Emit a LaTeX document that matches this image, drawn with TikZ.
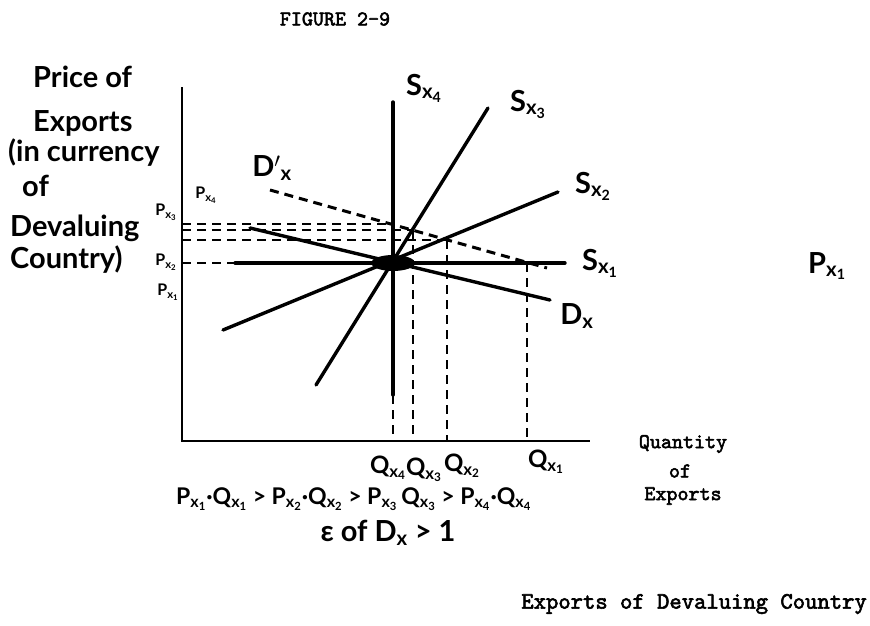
\documentclass[tikz,border=0pt]{standalone}
\usepackage{fontspec}
\newfontfamily\handfont{Lato}
\newfontfamily\typefont{lmmono10-regular}[Extension=.otf, FakeBold=2.5]
\usetikzlibrary{positioning, calc}

\newcommand{\lsub}[2]{#1\textsubscript{x\textsubscript{#2}}}

\begin{document}
\begin{tikzpicture}[x=1pt, y=-1pt,
        curve/.style={line width=3.4pt, line cap=round},
        axis/.style={line width=2.8pt},
        guide/.style={line width=2.8pt, dash pattern=on 9pt off 6pt},
        hand/.style={font=\handfont\bfseries\fontsize{29}{31}\selectfont, inner sep=0pt},
        handform/.style={font=\handfont\bfseries\fontsize{23}{25}\selectfont, inner sep=0pt},
        handmid/.style={font=\handfont\bfseries\fontsize{24}{26}\selectfont, inner sep=0pt},
        handsmall/.style={font=\handfont\bfseries\fontsize{16}{18}\selectfont, inner sep=0pt},
        typed/.style={font=\typefont\fontsize{21}{23}\selectfont, inner sep=0pt}
    ]

    \useasboundingbox (0,0) rectangle (870,626);

    \node[typed] (title) at (335,19) {FIGURE 2-9};

    % axes
    \coordinate (origin) at (182,441);
    \coordinate (ytop) at (182,87);
    \coordinate (xend) at (590,441);
    \draw[axis] (ytop) -- (origin) -- (xend);

    % supply and demand curves
    \coordinate (eq) at (393,263);
    \coordinate (sx4top) at (393,102);
    \coordinate (sx4bot) at (393,395);
    \coordinate (sx3top) at (488,108);
    \coordinate (sx3bot) at (316,385);
    \coordinate (sx2top) at (558,192);
    \coordinate (sx2bot) at (223,330);
    \coordinate (sx1left) at (235,263);
    \coordinate (sx1right) at (565,263);
    \coordinate (dxleft) at (250,228);
    \coordinate (dxright) at (550,300);
    \coordinate (dpleft) at (270,190);
    \coordinate (dpright) at (547,268);

    \draw[curve] (sx4top) -- (sx4bot);
    \draw[curve] (sx3bot) -- (sx3top);
    \draw[curve] (sx2bot) -- (sx2top);
    \draw[curve] (sx1left) -- (sx1right);
    \draw[curve] (dxleft) -- (dxright);
    \draw[guide, line width=3pt] (dpleft) -- (dpright);
    \fill (eq) ellipse [x radius=22pt, y radius=8pt];

    % new equilibria
    \coordinate (e4) at (393,224);
    \coordinate (e3) at (413,230);
    \coordinate (e2) at (447,240);
    \coordinate (e1) at (527,263);
    \coordinate (p4) at (182,224);
    \coordinate (p3) at (182,230);
    \coordinate (p2) at (182,240);
    \coordinate (p1) at (182,263);
    \coordinate (q4) at (393,441);
    \coordinate (q3) at (413,441);
    \coordinate (q2) at (447,441);
    \coordinate (q1) at (527,441);

    \draw[guide] (p4) -- (e4);
    \draw[guide] (p3) -- (e3);
    \draw[guide] (p2) -- (e2);
    \draw[guide] (p1) -- (sx1left);
    \draw[guide] (sx4bot) -- (q4);
    \draw[guide] (e3) -- (q3);
    \draw[guide] (e2) -- (q2);
    \draw[guide] (e1) -- (q1);

    % curve labels
    \node[hand] (lsx4) at (424,88) {\lsub{S}{4}};
    \node[hand] (lsx3) at (528,104) {\lsub{S}{3}};
    \node[hand] (lsx2) at (593,186) {\lsub{S}{2}};
    \node[hand] (lsx1) at (600,263) {\lsub{S}{1}};
    \node[hand] (ldx) at (577,316) {D\textsubscript{x}};
    \node[hand] (ldp) at (272,168) {D$'$\textsubscript{x}};

    % price labels
    \node[handsmall] (lp4) at (206,195) {\lsub{P}{4}};
    \node[handsmall] (lp3) at (166,212) {\lsub{P}{3}};
    \node[handsmall] (lp2) at (166,262) {\lsub{P}{2}};
    \node[handsmall] (lp1) at (168,292) {\lsub{P}{1}};

    % quantity labels
    \node[handmid] (lq4) at (388,468) {\lsub{Q}{4}};
    \node[handmid] (lq3) at (424,470) {\lsub{Q}{3}};
    \node[handmid] (lq2) at (462,466) {\lsub{Q}{2}};
    \node[handmid] (lq1) at (546,462) {\lsub{Q}{1}};

    % axis titles
    \node[hand, anchor=base west] (ya) at (33,88) {Price of};
    \node[hand, anchor=base west] (yb) at (33,131) {Exports};
    \node[hand, anchor=base west] (yc) at (8,161) {(in currency};
    \node[hand, anchor=base west] (yd) at (22,196) {of};
    \node[hand, anchor=base west] (ye) at (10,236) {Devaluing};
    \node[hand, anchor=base west] (yf) at (10,268) {Country)};

    \node[typed] (xa) at (683,444) {Quantity};
    \node[typed] (xb) at (680,471) {of};
    \node[typed] (xc) at (683,496) {Exports};

    \node[handform, anchor=west] (rule) at (176,499)
        {\lsub{P}{1}·\lsub{Q}{1} > \lsub{P}{2}·\lsub{Q}{2} > \lsub{P}{3}\,\lsub{Q}{3} > \lsub{P}{4}·\lsub{Q}{4}};
    \node[hand] (elast) at (388,533) {ε of D\textsubscript{x} > 1};

    \node[typed, anchor=east, font=\typefont\fontsize{23.5}{25}\selectfont] (caption) at (867,604) {Exports of Devaluing Country};
    \node[hand, anchor=west] (stray) at (808,266) {\lsub{P}{1}};

\end{tikzpicture}
\end{document}
